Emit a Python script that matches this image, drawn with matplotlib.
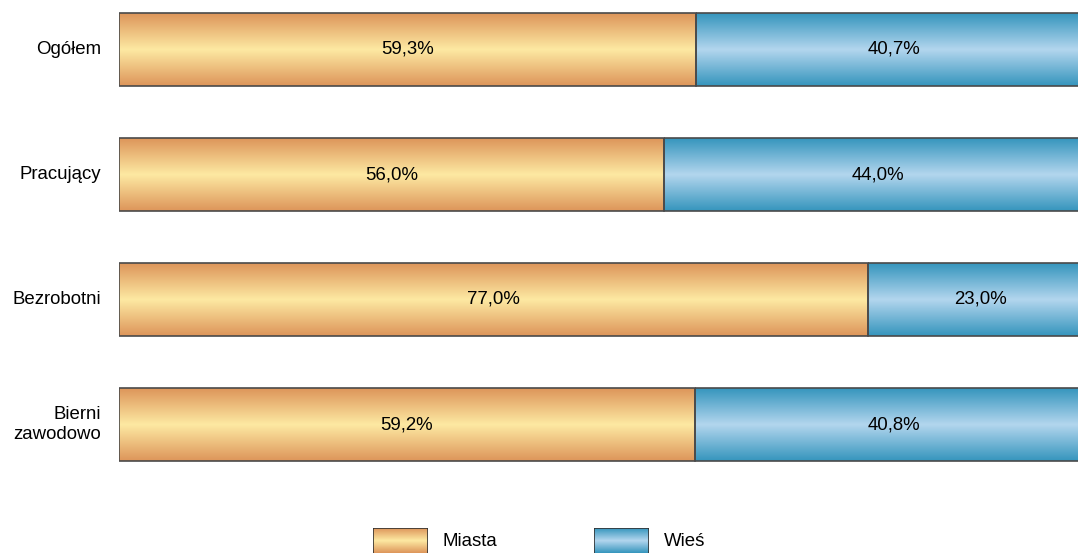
import numpy as np
import matplotlib
matplotlib.use('Agg')
from matplotlib import pyplot as plt
from matplotlib.colors import LinearSegmentedColormap
from matplotlib.patches import Rectangle

plt.rcParams['font.family'] = ['Liberation Sans', 'DejaVu Sans']

categories = ['Ogółem', 'Pracujący', 'Bezrobotni', 'Bierni\nzawodowo']
miasta = [59.3, 56.0, 77.0, 59.2]
wies = [40.7, 44.0, 23.0, 40.8]
series_names = ['Miasta', 'Wieś']

orange = LinearSegmentedColormap.from_list('o', ['#dd955a', '#fde9a2', '#dd955a'])
blue = LinearSegmentedColormap.from_list('b', ['#3595bd', '#b3d6ee', '#3595bd'])
grad = np.linspace(0, 1, 256).reshape(-1, 1)

fig = plt.figure(figsize=(10.78, 5.53), dpi=100)
# axis 0..100 spans 119px..1092px (right part cropped by figure edge)
ax = fig.add_axes([119 / 1078, 1 - 487 / 553, 973 / 1078, 487 / 553])
ax.set_xlim(0, 100)
ax.set_ylim(3.5, -0.396)
ax.axis('off')

bar_h = 73 / 125
y = np.arange(len(categories))


def gradient_bars(left, width, cmap):
    bars = ax.barh(y, width, left=left, height=bar_h, color='none',
                   edgecolor='#4a4a4a', linewidth=1.2, zorder=3)
    for b in bars:
        x0, y0 = b.get_x(), b.get_y()
        im = ax.imshow(grad, cmap=cmap, aspect='auto', zorder=2,
                       extent=[x0, x0 + b.get_width(), y0 + b.get_height(), y0])
        im.set_clip_path(b)
    return bars


gradient_bars(0, miasta, orange)
gradient_bars(miasta, wies, blue)

fs = 13.4
for i in range(len(categories)):
    ax.text(miasta[i] / 2, y[i], f'{miasta[i]:.1f}%'.replace('.', ','),
            ha='center', va='center', fontsize=fs, zorder=4)
    ax.text(miasta[i] + wies[i] / 2, y[i], f'{wies[i]:.1f}%'.replace('.', ','),
            ha='center', va='center', fontsize=fs, zorder=4)
    ax.text(-1.8, y[i], categories[i], ha='right', va='center',
            fontsize=fs, linespacing=1.2)

# legend
for x0, cmap, name in [(373, orange, series_names[0]), (594, blue, series_names[1])]:
    lax = fig.add_axes([x0 / 1078, 0, 55 / 1078, 25 / 553])
    lax.imshow(grad, cmap=cmap, aspect='auto', extent=[0, 1, 1.4, 0])
    lax.set_xlim(0, 1)
    lax.set_ylim(1.4, 0)
    lax.add_patch(Rectangle((0, 0.02), 1, 1.5, fill=False, edgecolor='#333333', linewidth=1.2))
    lax.axis('off')
    fig.text((x0 + 70) / 1078, 1 - 542 / 553, name, ha='left', va='center', fontsize=fs)

fig.savefig('out.png', dpi=100)
